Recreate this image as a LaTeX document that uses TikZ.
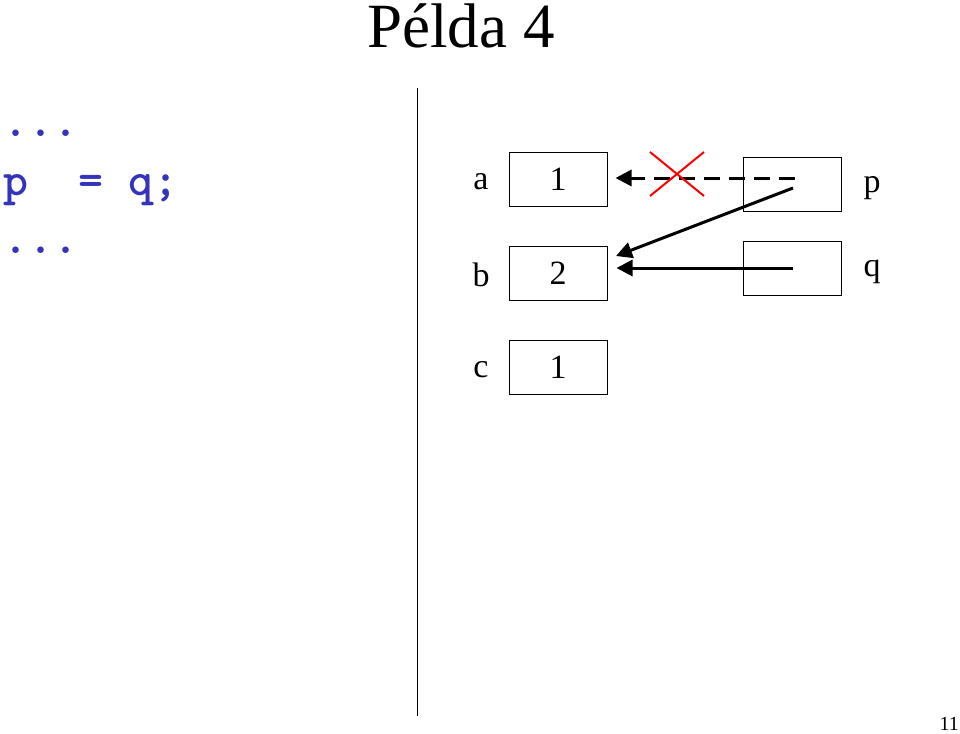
\documentclass[tikz,border=0pt]{standalone}
\usepackage{fontspec}
\setmainfont{Liberation Serif}
\usetikzlibrary{arrows.meta}
\definecolor{codeblue}{RGB}{51,51,187}
\begin{document}
\begin{tikzpicture}[x=1pt,y=-1pt,
  cell/.style={draw,line width=1pt,minimum width=98pt,minimum height=54pt,inner sep=0pt,font=\fontsize{34}{36}\selectfont},
  lbl/.style={inner sep=0pt,font=\fontsize{34}{36}\selectfont},
  code/.style={inner sep=0pt,anchor=base west,text=codeblue,font=\fontsize{47.6}{50}\ttfamily\bfseries},
  ptr/.style={line width=3pt,-{Triangle[length=16pt,width=16pt]}},
]
\useasboundingbox (0,0) rectangle (960,733);
\node[inner sep=0pt,anchor=base,font=\fontsize{63}{66}\selectfont] (title) at (461,48) {Példa 4};
\node[code] (c1) at (3,136) {...};
\node[code] (c2) at (3,195) {p\ \ =\ q;};
\node[code] (c3) at (3,253) {...};
\coordinate (vtop) at (417,88);
\coordinate (vbot) at (417,716);
\draw[line width=1pt] (vtop) -- (vbot);
\node[cell] (a) at (558,179) {1};
\node[cell] (b) at (558,273) {\raisebox{-6pt}{2}};
\node[cell] (c) at (558,367) {1};
\node[cell] (p) at (792.5,184) {};
\node[cell] (q) at (792.5,268) {};
\node[lbl] (la) at (481,182) {a};
\node[lbl] (lb) at (481,275) {b};
\node[lbl] (lc) at (481,370) {c};
\node[lbl] (lp) at (872,188) {p};
\node[lbl] (lq) at (872,272) {q};
\coordinate (ps1) at (795,178);
\coordinate (pe1) at ([xshift=8pt]a.east |- ps1);
\coordinate (ps2) at (793,188);
\coordinate (pe2) at (616,256);
\coordinate (qs) at (793,268);
\coordinate (qe) at ([xshift=9pt]b.east |- qs);
\draw[ptr,dash pattern=on 16pt off 9pt] (ps1) -- (pe1);
\draw[ptr] (ps2) -- (pe2);
\draw[ptr] (qs) -- (qe);
\coordinate (x1) at (650,152);
\coordinate (x2) at (704,196);
\coordinate (x3) at (650,196);
\coordinate (x4) at (704,152);
\draw[red,line width=2pt] (x1) -- (x2) (x3) -- (x4);
\node[inner sep=0pt,anchor=base east,font=\fontsize{20}{22}\selectfont] (pg) at (959,730) {11};
\end{tikzpicture}
\end{document}
